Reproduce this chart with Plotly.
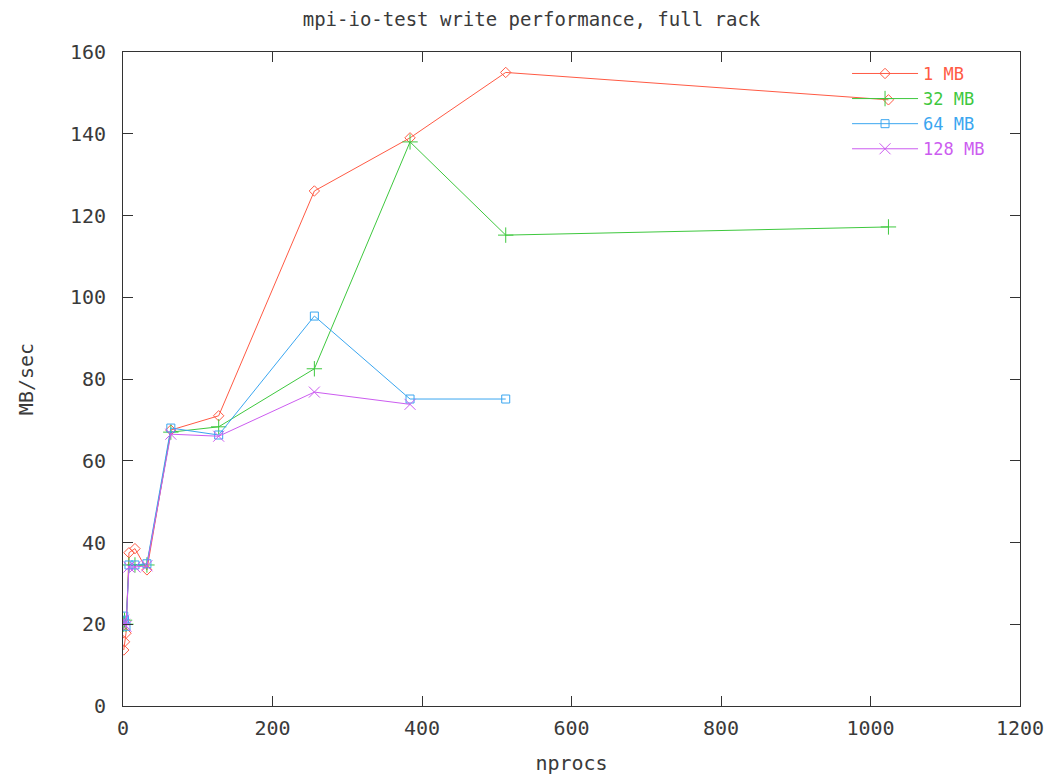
import plotly.graph_objects as go

nprocs = [1, 2, 4, 8, 16, 32, 64, 128, 256, 384, 512, 1024]

mb1 = [13.7, 15.7, 17.8, 37.5, 38.5, 33.3, 67.5, 71.0, 126.0, 139.0, 155.0, 148.3]
mb32 = [20.0, 21.0, 20.0, 34.5, 34.5, 34.5, 67.0, 68.3, 82.5, 138.0, 115.2, 117.2]
mb64 = [22.0, 21.0, 19.5, 34.5, 34.5, 34.8, 68.0, 66.3, 95.4, 75.1, 75.1]
mb128 = [21.0, 20.0, 19.5, 34.0, 34.0, 34.3, 66.5, 66.0, 76.8, 73.8]

series_names = ["1 MB", "32 MB", "64 MB", "128 MB"]
series_values = [mb1, mb32, mb64, mb128]
colors = ["#ff5a44", "#3ec83e", "#3aa6f0", "#cc5cf0"]
symbols = ["diamond-open", "cross-thin-open", "square-open", "x-thin-open"]
sizes = [8, 11, 8, 11]

xticks = [0, 200, 400, 600, 800, 1000, 1200]
yticks = [0, 20, 40, 60, 80, 100, 120, 140, 160]

FONT = "DejaVu Sans Mono"
TXT = "#3a3a3a"
FS = 20

fig = go.Figure()
for name, vals, c, s, sz in zip(series_names, series_values, colors, symbols, sizes):
    fig.add_trace(go.Scatter(
        x=nprocs[:len(vals)], y=vals, mode="lines+markers",
        name=f"<span style='color:{c}'>{name}</span>",
        line=dict(color=c, width=1),
        marker=dict(symbol=s, size=sz, color=c, line=dict(color=c, width=1)),
    ))

axis_common = dict(
    showgrid=False, zeroline=False, showline=True, linecolor="#333",
    linewidth=1, mirror="allticks", ticks="inside", ticklen=10,
    tickcolor="#333", tickfont=dict(family=FONT, size=FS, color=TXT),
    automargin=False,
)

fig.update_layout(
    width=1047, height=767,
    paper_bgcolor="white", plot_bgcolor="white",
    margin=dict(l=115, r=35, t=44, b=69),
    title=dict(text="mpi-io-test write performance, full rack",
               x=0.5, xanchor="center", y=0.985, yanchor="middle",
               font=dict(family=FONT, size=19, color=TXT)),
    xaxis=dict(range=[0, 1200], tickvals=xticks, ticklabelstandoff=4,
               title=dict(text="nprocs", font=dict(family=FONT, size=FS, color=TXT), standoff=16),
               **axis_common),
    yaxis=dict(range=[0, 160], tickvals=yticks, ticklabelstandoff=12,
               title=dict(text="MB/sec", font=dict(family=FONT, size=FS, color=TXT), standoff=30),
               **axis_common),
    legend=dict(x=0.9666, y=0.994, xanchor="right", yanchor="top",
                bgcolor="rgba(0,0,0,0)", borderwidth=0,
                font=dict(family=FONT, size=17), itemwidth=66,
                tracegroupgap=0),
    showlegend=True,
)

fig.write_html("out.html")
